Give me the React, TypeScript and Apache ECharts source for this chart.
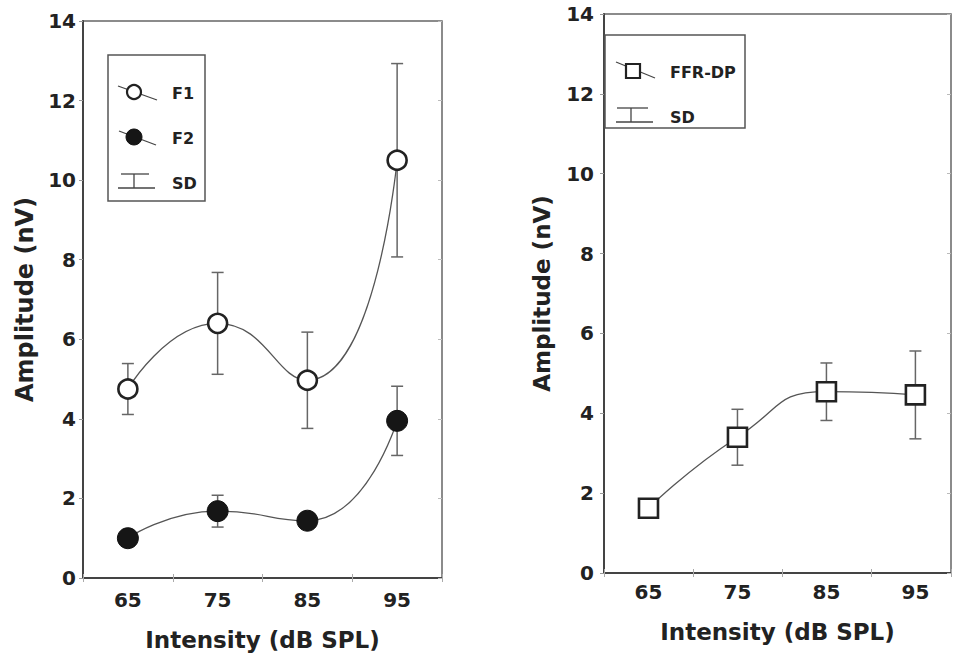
import React, { useEffect, useRef } from "react";
import * as echarts from "echarts";

// ---- data ----
const intensity = [65, 75, 85, 95];
const xTickLabels = ["65", "75", "85", "95"];
const yTicks = [0, 2, 4, 6, 8, 10, 12, 14];

const f1Mean = [4.75, 6.4, 4.97, 10.5];
const f1Sd = [0.64, 1.28, 1.21, 2.43];
const f2Mean = [1.0, 1.68, 1.44, 3.95];
const f2Sd = [0.2, 0.4, 0.2, 0.87];
const ffrMean = [1.62, 3.4, 4.54, 4.46];
const ffrSd = [0.2, 0.7, 0.72, 1.1];

const FONT = '"DejaVu Sans", "Liberation Sans", sans-serif';
const INK = "#222";

const pairs = (m: number[]) => intensity.map((x, i) => [x, m[i]]);
const bars = (m: number[], s: number[]) => intensity.map((x, i) => [x, m[i] - s[i], m[i] + s[i]]);

const errorRender = (params: any, api: any) => {
  const x = api.value(0);
  const lo = api.value(1);
  const hi = api.value(2);
  const a = api.coord([x, hi]);
  const b = api.coord([x, lo]);
  const w = 6;
  const style = { stroke: "#666", lineWidth: 1.5 };
  return {
    type: "group",
    children: [
      { type: "line", shape: { x1: a[0], y1: a[1], x2: b[0], y2: b[1] }, style },
      { type: "line", shape: { x1: a[0] - w, y1: a[1], x2: a[0] + w, y2: a[1] }, style },
      { type: "line", shape: { x1: b[0] - w, y1: b[1], x2: b[0] + w, y2: b[1] }, style },
    ],
  };
};

function makeXAxes(g: number, max: number, labelMargin: number, nameGap: number) {
  return [
    {
      type: "value",
      gridIndex: g,
      min: 60,
      max,
      interval: 5,
      axisLine: { show: true, lineStyle: { color: "#444", width: 2 } },
      axisTick: { show: false },
      splitLine: { show: false },
      axisLabel: {
        margin: labelMargin,
        color: INK,
        fontSize: 20,
        fontWeight: "bold",
        fontFamily: FONT,
        formatter: (v: number) => {
          const i = intensity.indexOf(v);
          return i >= 0 ? xTickLabels[i] : "";
        },
      },
      name: "Intensity (dB SPL)",
      nameLocation: "middle",
      nameGap,
      nameTextStyle: { color: INK, fontSize: 23, fontWeight: "bold", fontFamily: FONT },
    },
    {
      type: "value",
      gridIndex: g,
      position: "top",
      min: 60,
      max,
      interval: 10,
      axisLine: { show: false },
      axisTick: { show: true, inside: true, length: 4, lineStyle: { color: "#aaa" } },
      axisLabel: { show: false },
      splitLine: { show: false },
    },
    {
      type: "value",
      gridIndex: g,
      position: "bottom",
      min: 60,
      max,
      interval: 10,
      axisLine: { show: false },
      axisTick: { show: true, inside: true, length: 4, lineStyle: { color: "#aaa" } },
      axisLabel: { show: false },
      splitLine: { show: false },
    },
  ];
}

function makeYAxes(g: number, labelMargin: number, nameGap: number, nameSize: number) {
  return [
    {
      type: "value",
      gridIndex: g,
      min: yTicks[0],
      max: yTicks[yTicks.length - 1],
      interval: 2,
      axisLine: { show: true, lineStyle: { color: "#444", width: 2 } },
      axisTick: { show: true, length: 4, lineStyle: { color: "#999" } },
      splitLine: { show: false },
      axisLabel: { margin: labelMargin, color: INK, fontSize: 20, fontWeight: "bold", fontFamily: FONT },
      name: "Amplitude (nV)",
      nameLocation: "middle",
      nameGap,
      nameTextStyle: { color: INK, fontSize: nameSize, fontWeight: "bold", fontFamily: FONT },
    },
    {
      type: "value",
      gridIndex: g,
      position: "right",
      min: yTicks[0],
      max: yTicks[yTicks.length - 1],
      interval: 2,
      axisLine: { show: false },
      axisTick: { show: true, inside: true, length: 4, lineStyle: { color: "#bbb" } },
      axisLabel: { show: false },
      splitLine: { show: false },
    },
  ];
}

const legendText = (text: string, x: number, y: number) => ({
  type: "text",
  x,
  y,
  z: 100,
  style: { text, fill: INK, fontSize: 16, fontWeight: "bold", fontFamily: FONT, verticalAlign: "middle", align: "left" },
});
const seg = (x1: number, y1: number, x2: number, y2: number, w = 1.3, c = "#444") => ({
  type: "line",
  z: 100,
  shape: { x1, y1, x2, y2 },
  style: { stroke: c, lineWidth: w },
});

export default function App() {
  const ref = useRef<HTMLDivElement>(null);
  useEffect(() => {
    if (!ref.current) return;
    const chart = echarts.init(ref.current, undefined, { renderer: "svg" });
    const xAxes = [...makeXAxes(0, 100, 12, 50), ...makeXAxes(1, 99, 9, 47)];
    const yAxes = [...makeYAxes(0, 7, 46, 24), ...makeYAxes(1, 10, 51, 23)];
    const lineStyle = { color: "#555", width: 1.3 };
    chart.setOption({
      animation: false,
      backgroundColor: "#ffffff",
      grid: [
        { left: 83, right: 954 - 442, top: 21, bottom: 658 - 578, show: true, borderColor: "#666", borderWidth: 1.5 },
        { left: 604, right: 2, top: 14, bottom: 658 - 573, show: true, borderColor: "#666", borderWidth: 1.5 },
      ],
      xAxis: xAxes,
      yAxis: yAxes,
      series: [
        { name: "F1 SD", type: "custom", xAxisIndex: 0, yAxisIndex: 0, z: 1, renderItem: errorRender, data: bars(f1Mean, f1Sd) },
        { name: "F2 SD", type: "custom", xAxisIndex: 0, yAxisIndex: 0, z: 1, renderItem: errorRender, data: bars(f2Mean, f2Sd) },
        { name: "FFR-DP SD", type: "custom", xAxisIndex: 3, yAxisIndex: 2, z: 1, renderItem: errorRender, data: bars(ffrMean, ffrSd) },
        {
          name: "F1",
          type: "line",
          xAxisIndex: 0,
          yAxisIndex: 0,
          z: 3,
          smooth: 0.55,
          symbol: "circle",
          symbolSize: 19,
          itemStyle: { color: "#fff", borderColor: "#222", borderWidth: 2.6 },
          lineStyle,
          data: pairs(f1Mean),
        },
        {
          name: "F2",
          type: "line",
          xAxisIndex: 0,
          yAxisIndex: 0,
          z: 3,
          smooth: 0.55,
          symbol: "circle",
          symbolSize: 21,
          itemStyle: { color: "#161616", borderColor: "#111", borderWidth: 1 },
          lineStyle,
          data: pairs(f2Mean),
        },
        {
          name: "FFR-DP",
          type: "line",
          xAxisIndex: 3,
          yAxisIndex: 2,
          z: 3,
          smooth: 0.55,
          symbol: "rect",
          symbolSize: 19,
          itemStyle: { color: "#fff", borderColor: "#222", borderWidth: 2.6 },
          lineStyle,
          data: pairs(ffrMean),
        },
      ],
      graphic: {
        elements: [
          // left legend
          { type: "rect", z: 99, shape: { x: 108, y: 55, width: 97, height: 146 }, style: { fill: "#fff", stroke: "#555", lineWidth: 1.5 } },
          seg(118, 86, 157, 100),
          { type: "circle", z: 101, shape: { cx: 134, cy: 92, r: 7 }, style: { fill: "#fff", stroke: "#222", lineWidth: 2.2 } },
          legendText("F1", 172, 93),
          seg(119, 131, 156, 145),
          { type: "circle", z: 101, shape: { cx: 134, cy: 137, r: 8 }, style: { fill: "#161616", stroke: "#111", lineWidth: 1 } },
          legendText("F2", 172, 138),
          seg(121, 174, 149, 174),
          seg(118, 188, 155, 188),
          seg(134, 174, 134, 188),
          legendText("SD", 172, 183),
          // right legend
          { type: "rect", z: 99, shape: { x: 605, y: 35, width: 140, height: 93 }, style: { fill: "#fff", stroke: "#555", lineWidth: 1.5 } },
          seg(616, 62, 655, 78),
          { type: "rect", z: 101, shape: { x: 626, y: 64, width: 14, height: 14 }, style: { fill: "#fff", stroke: "#222", lineWidth: 2.2 } },
          legendText("FFR-DP", 670, 72),
          seg(617, 108, 648, 108),
          seg(616, 122, 653, 122),
          seg(631, 108, 631, 122),
          legendText("SD", 670, 117),
        ],
      },
    });
    return () => chart.dispose();
  }, []);
  return <div ref={ref} style={{ position: "fixed", left: 0, top: 0, width: 954, height: 658 }} />;
}
